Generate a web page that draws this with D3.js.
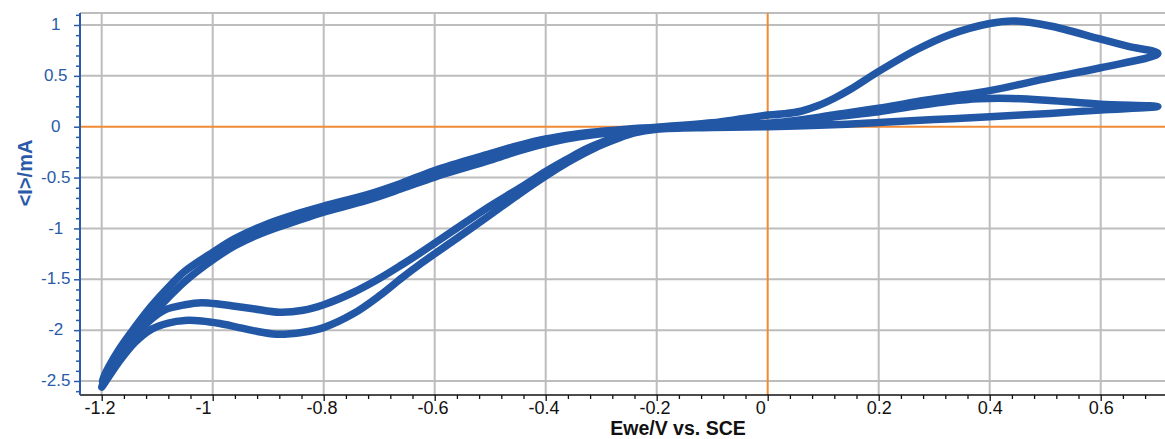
<!DOCTYPE html>
<html><head><meta charset="utf-8">
<script src="https://cdn.jsdelivr.net/npm/d3@7"></script>
<style>body{margin:0;background:#fff;} svg{display:block;}</style>
</head><body>
<svg id="chart" width="1165" height="439"></svg>
<script>
// ---- data ----
const xTickValues = [-1.2, -1, -0.8, -0.6, -0.4, -0.2, 0, 0.2, 0.4, 0.6];
const xTickLabels = ["-1.2", "-1", "-0.8", "-0.6", "-0.4", "-0.2", "0", "0.2", "0.4", "0.6"];
const yTickValues = [-2.5, -2, -1.5, -1, -0.5, 0, 0.5, 1];
const yTickLabels = ["-2.5", "-2", "-1.5", "-1", "-0.5", "0", "0.5", "1"];
const xTitle = "Ewe/V vs. SCE";
const yTitle = "<I>/mA";

// cycle 1: [Ewe (V), <I> (mA)]
const cycle1 = [
  [0.0, 0.115], [0.03, 0.127], [0.06, 0.152], [0.09, 0.205], [0.12, 0.28], [0.15, 0.37],
  [0.2, 0.544], [0.268, 0.757], [0.328, 0.905], [0.4, 1.015], [0.443, 1.04], [0.509, 0.99],
  [0.6, 0.86], [0.65, 0.79], [0.703, 0.72],
  [0.6, 0.58], [0.508, 0.48], [0.4, 0.355], [0.328, 0.295], [0.268, 0.246], [0.2, 0.181],
  [0.118, 0.115], [0.058, 0.066], [0.0, 0.033], [-0.1, 0.005],
  [-0.2, -0.015], [-0.24, -0.045], [-0.27, -0.095], [-0.3, -0.155], [-0.33, -0.225], [-0.36, -0.315],
  [-0.4, -0.44], [-0.446, -0.60], [-0.506, -0.80], [-0.566, -1.02], [-0.626, -1.24], [-0.66, -1.36],
  [-0.702, -1.50], [-0.747, -1.63], [-0.8, -1.75], [-0.837, -1.805], [-0.879, -1.825], [-0.927, -1.79],
  [-0.96, -1.765], [-0.987, -1.745], [-1.02, -1.73], [-1.05, -1.75], [-1.086, -1.80], [-1.11, -1.89],
  [-1.14, -2.06], [-1.17, -2.27], [-1.2, -2.50],
  [-1.17, -2.20], [-1.14, -1.97], [-1.11, -1.76], [-1.08, -1.58], [-1.05, -1.42], [-1.0, -1.235],
  [-0.96, -1.10], [-0.906, -0.965], [-0.85, -0.86], [-0.8, -0.78], [-0.723, -0.67], [-0.66, -0.555],
  [-0.6, -0.43], [-0.5, -0.265], [-0.45, -0.185], [-0.4, -0.12], [-0.35, -0.075], [-0.3, -0.045],
  [-0.25, -0.022], [-0.2, -0.005], [-0.1, 0.038], [-0.05, 0.075], [0.0, 0.115]
];

// cycle 2: [Ewe (V), <I> (mA)]
const cycle2 = [
  [0.0, 0.012], [0.058, 0.05], [0.118, 0.095], [0.2, 0.147], [0.268, 0.205], [0.328, 0.25],
  [0.38, 0.275], [0.44, 0.278], [0.508, 0.258], [0.6, 0.222], [0.703, 0.198],
  [0.6, 0.164], [0.508, 0.131], [0.4, 0.098], [0.3, 0.07], [0.2, 0.042], [0.118, 0.02],
  [0.0, 0.0], [-0.1, -0.008],
  [-0.2, -0.025], [-0.24, -0.06], [-0.27, -0.115], [-0.3, -0.18], [-0.33, -0.26], [-0.36, -0.35],
  [-0.4, -0.485], [-0.446, -0.655], [-0.506, -0.89], [-0.566, -1.12], [-0.626, -1.35], [-0.66, -1.49],
  [-0.699, -1.66], [-0.747, -1.84], [-0.8, -1.975], [-0.837, -2.02], [-0.885, -2.04], [-0.927, -2.005],
  [-0.96, -1.965], [-0.987, -1.935], [-1.02, -1.91], [-1.05, -1.905], [-1.08, -1.93], [-1.11, -1.99],
  [-1.14, -2.12], [-1.17, -2.32], [-1.2, -2.56],
  [-1.17, -2.27], [-1.14, -2.06], [-1.11, -1.85], [-1.08, -1.68], [-1.05, -1.52], [-1.0, -1.31],
  [-0.96, -1.17], [-0.906, -1.035], [-0.85, -0.93], [-0.8, -0.84], [-0.723, -0.725], [-0.66, -0.61],
  [-0.6, -0.495], [-0.5, -0.33], [-0.45, -0.24], [-0.4, -0.165], [-0.35, -0.11], [-0.3, -0.07],
  [-0.25, -0.04], [-0.2, -0.02], [-0.1, 0.0], [0.0, 0.012]
];

// ---- layout ----
const L = 80, R = 1165, T = 13, B = 395;
const blue = "#2a5ba8", curveBlue = "#2257a6", grid = "#bdbdbd", orange = "#f08a35";
const x = d3.scaleLinear().domain([-1.2, 0.7]).range([101.7, 1156.2]);
const y = d3.scaleLinear().domain([-2.5, 1]).range([381, 25]);

const svg = d3.select("#chart");
svg.append("rect").attr("width", 1165).attr("height", 439).attr("fill", "#fff");

// grid
const g = svg.append("g");
g.selectAll("line.vx").data(xTickValues.filter(d => d !== 0)).join("line")
  .attr("x1", d => x(d)).attr("x2", d => x(d)).attr("y1", T).attr("y2", B)
  .attr("stroke", grid).attr("stroke-width", 2);
g.selectAll("line.hy").data(yTickValues.filter(d => d !== 0)).join("line")
  .attr("class", "hy")
  .attr("x1", L).attr("x2", R).attr("y1", d => y(d)).attr("y2", d => y(d))
  .attr("stroke", grid).attr("stroke-width", 2);
g.append("line").attr("x1", L).attr("x2", R).attr("y1", T).attr("y2", T)
  .attr("stroke", grid).attr("stroke-width", 2);
// zero lines
g.append("line").attr("x1", x(0)).attr("x2", x(0)).attr("y1", T).attr("y2", B)
  .attr("stroke", orange).attr("stroke-width", 2);
g.append("line").attr("x1", L).attr("x2", R).attr("y1", y(0)).attr("y2", y(0))
  .attr("stroke", orange).attr("stroke-width", 2);

// curves
const line = d3.line().x(d => x(d[0])).y(d => y(d[1])).curve(d3.curveCatmullRom.alpha(0.5));
[cycle1, cycle2].forEach(c => {
  svg.append("path").attr("d", line(c)).attr("fill", "none")
    .attr("stroke", curveBlue).attr("stroke-width", 7.5)
    .attr("stroke-linejoin", "round").attr("stroke-linecap", "round");
});

// x axis
const xMinor = d3.range(-30, 18).filter(k => k % 5 !== 0).map(k => k * 0.04);
const xa = svg.append("g").attr("transform", `translate(0,${B})`);
xa.call(d3.axisBottom(x).tickValues(xMinor).tickSize(4).tickFormat(""));
const xaM = svg.append("g").attr("transform", `translate(0,${B})`);
xaM.call(d3.axisBottom(x).tickValues(xTickValues).tickSize(6).tickFormat((d, i) => xTickLabels[i]));
[xa, xaM].forEach(a => { a.select(".domain").remove(); a.selectAll("line").attr("stroke", "#111").attr("stroke-width", 1.3); });
// labels are placed as if they had one decimal
const meas = svg.append("text").style("font", "18px 'Liberation Sans', Arial, sans-serif");
xaM.selectAll("text")
  .style("font", "18px 'Liberation Sans', Arial, sans-serif").attr("fill", "#111")
  .attr("text-anchor", "start").attr("dy", 0).attr("y", 18.5)
  .attr("x", d => { meas.text(d3.format(".1f")(d)); return -meas.node().getComputedTextLength() / 2; });
meas.remove();
svg.append("line").attr("x1", L).attr("x2", R).attr("y1", B).attr("y2", B)
  .attr("stroke", "#111").attr("stroke-width", 1.5);

// y axis
const yMinor = d3.range(-26, 12).filter(k => k % 5 !== 0).map(k => k * 0.1);
const ya = svg.append("g").attr("transform", `translate(${L},0)`);
ya.call(d3.axisLeft(y).tickValues(yMinor).tickSize(4).tickFormat(""));
const yaM = svg.append("g").attr("transform", `translate(${L},0)`);
yaM.call(d3.axisLeft(y).tickValues(yTickValues).tickSize(6).tickFormat((d, i) => yTickLabels[i]));
[ya, yaM].forEach(a => { a.select(".domain").remove(); a.selectAll("line").attr("stroke", blue).attr("stroke-width", 1.5); });
yaM.selectAll("text")
  .style("font", "17px 'Liberation Sans', Arial, sans-serif").attr("fill", blue)
  .attr("text-anchor", "middle").attr("x", -24.3).attr("dy", "0.27em");
svg.append("line").attr("x1", L).attr("x2", L).attr("y1", T).attr("y2", B)
  .attr("stroke", blue).attr("stroke-width", 2);

// titles
svg.append("text").attr("x", 678).attr("y", 434.5).attr("text-anchor", "middle")
  .style("font", "bold 19.5px 'Liberation Sans', Arial, sans-serif").attr("fill", "#111")
  .text(xTitle);
svg.append("text").attr("transform", "translate(32,173) rotate(-90)").attr("text-anchor", "middle")
  .style("font", "bold 20px 'Liberation Sans', Arial, sans-serif").attr("fill", blue)
  .text(yTitle);
</script>
</body></html>
